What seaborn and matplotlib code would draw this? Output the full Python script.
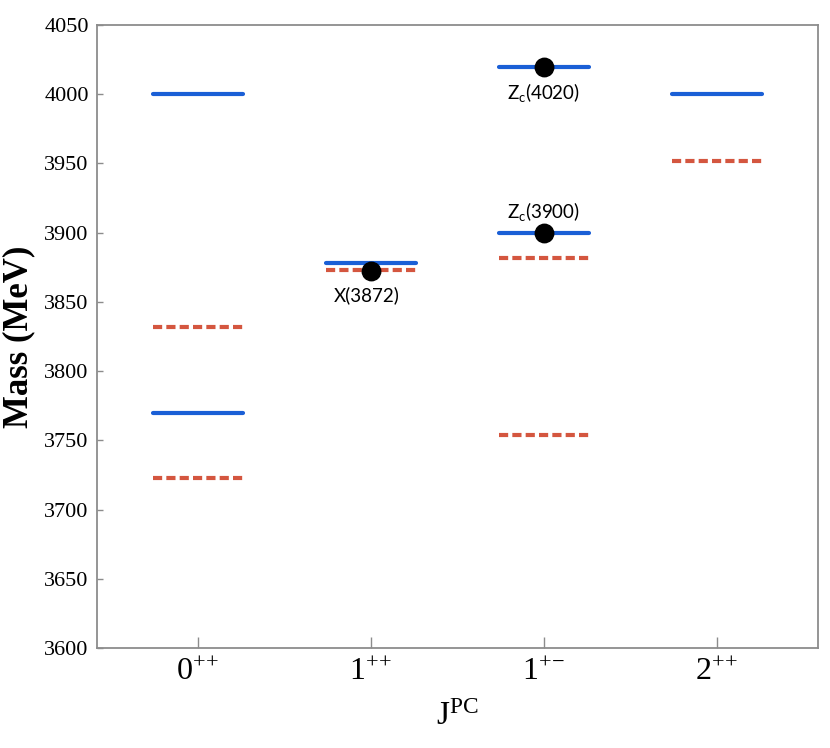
import matplotlib
matplotlib.use("Agg")

import numpy as np
import pandas as pd
import matplotlib.pyplot as plt
import seaborn as sns

# ==========================
# Data
# ==========================

jpc_order = ["0++", "1++", "1+-", "2++"]
jpc_ticklabels = [r"$\mathregular{0^{+\!+}}$", r"$\mathregular{1^{+\!+}}$",
                  r"$\mathregular{1^{+\!-}}$", r"$\mathregular{2^{+\!+}}$"]

# solid blue levels
blue_jpc = ["0++", "0++", "1++", "1+-", "1+-", "2++"]
blue_mass = [4000, 3770, 3878, 4020, 3900, 4000]

# dashed red levels
red_jpc = ["0++", "0++", "1++", "1+-", "1+-", "2++"]
red_mass = [3832, 3723, 3873, 3882, 3754, 3952]

# experimental states
exp_names = ["X(3872)", r"$\mathregular{Z_c}$(3900)", r"$\mathregular{Z_c}$(4020)"]
exp_jpc = ["1++", "1+-", "1+-"]
exp_mass = [3872, 3900, 4020]
exp_offsets = [(-3, -17), (0, 15), (0, -19)]  # label offsets in points

BLUE = "#1a5fd6"
RED = "#d4563f"
HALF = 0.26  # half width of a level bar (category units)

# ==========================
# Build long table of level segments
# ==========================

rows = []
seg = 0
for kind, jpcs, masses in [("blue", blue_jpc, blue_mass), ("red", red_jpc, red_mass)]:
    for j, m in zip(jpcs, masses):
        c = jpc_order.index(j)
        rows.append({"seg": seg, "kind": kind, "x": c - HALF, "mass": m})
        rows.append({"seg": seg, "kind": kind, "x": c + HALF, "mass": m})
        seg += 1
levels = pd.DataFrame(rows)

exp_x = [jpc_order.index(j) for j in exp_jpc]

# ==========================
# Plot
# ==========================

sns.set_style("ticks")
plt.rcParams["font.family"] = ["Liberation Serif", "DejaVu Serif"]
plt.rcParams["text.color"] = "black"
plt.rcParams["xtick.labelcolor"] = "black"
plt.rcParams["ytick.labelcolor"] = "black"
plt.rcParams["axes.labelcolor"] = "black"

fig = plt.figure(figsize=(8.3, 7.48), dpi=100)
ax = fig.add_axes([0.1169, 0.1337, 0.8686, 0.8329])

sns.lineplot(data=levels, x="x", y="mass", hue="kind", style="kind",
             units="seg", estimator=None, sort=False,
             palette={"blue": BLUE, "red": RED},
             dashes={"blue": "", "red": (2.2, 1.0)},
             linewidth=3, legend=False, ax=ax)

# blue drawn on top of red
for line in ax.lines:
    if matplotlib.colors.to_hex(line.get_color()) == BLUE:
        line.set_zorder(3)
    else:
        line.set_zorder(2)

sns.scatterplot(x=exp_x, y=exp_mass, color="black", edgecolor="black",
                s=175, zorder=5, ax=ax)

for name, x, m, off in zip(exp_names, exp_x, exp_mass, exp_offsets):
    ax.annotate(name, (x, m), xytext=off, textcoords="offset points",
                ha="center", va="center", fontsize=13.5,
                family=["Lato", "DejaVu Sans"], color="black")

ax.set_xlim(-0.584, 3.584)
ax.set_ylim(3600, 4050)
ax.set_yticks(np.arange(3600, 4051, 50))
ax.set_xticks(range(len(jpc_order)))
ax.set_xticklabels(jpc_ticklabels, fontsize=23)
ax.tick_params(axis="y", labelsize=16, direction="in", length=4, width=1,
               color="#8c8c8c", pad=6)
ax.tick_params(axis="x", direction="in", length=8, width=1,
               color="#8c8c8c", pad=7)

for s in ax.spines.values():
    s.set_visible(True)
    s.set_color("#8c8c8c")
    s.set_linewidth(1.3)

ax.set_xlabel(r"$\mathregular{J^{PC}}$", fontsize=24)
ax.set_ylabel("Mass (MeV)", fontsize=25, fontweight="bold")
ax.yaxis.set_label_coords(-0.085, 0.5)
ax.xaxis.set_label_coords(0.5, -0.085)

fig.savefig("out.png", dpi=100)
plt.close(fig)
